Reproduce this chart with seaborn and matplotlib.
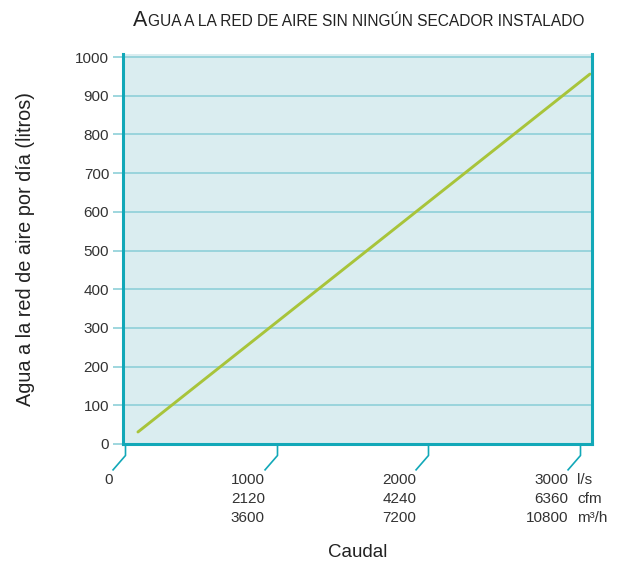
import pandas as pd
import matplotlib
matplotlib.use("Agg")
from matplotlib import pyplot as plt
from matplotlib.path import Path
import seaborn as sns

# Datos
caudal_ls = [85, 3065]
agua_litros = [31, 956]
ticks_ls = [0, 1000, 2000, 3000]
ticks_cfm = ["", "2120", "4240", "6360"]
ticks_m3h = ["", "3600", "7200", "10800"]
unidades = ["l/s", "cfm", "m³/h"]
y_ticks = list(range(0, 1001, 100))

sns.set_style("white")
plt.rcParams['font.family'] = ['Liberation Sans', 'DejaVu Sans']

teal = "#12a8b8"
grid = "#8ed0d8"
verde = "#a8c43a"
fondo = "#daedf0"
texto = "#333333"

df = pd.DataFrame({"caudal": caudal_ls, "agua": agua_litros})

fig = plt.figure(figsize=(6.28, 5.62), dpi=100)
ax = fig.add_axes([0.196, 0.21, 0.747, 0.694])
ax.set_facecolor(fondo)
sns.lineplot(data=df, x="caudal", y="agua", color=verde, linewidth=2.1, ax=ax)

ax.set_xlim(-13, 3080)
ax.set_ylim(0, 1008)
ax.set_yticks(y_ticks)
ax.set_xticks([])
ax.yaxis.grid(True, color=grid, linewidth=1.2)
ax.set_axisbelow(True)
ax.tick_params(axis='y', left=True, length=7, width=1.2, color=grid,
               labelsize=11, labelcolor=texto, pad=3)

ax.spines['top'].set_visible(False)
for s in ['left', 'right', 'bottom']:
    ax.spines[s].set_color(teal)
    ax.spines[s].set_linewidth(2.2)

# Marcas del eje x: trazo vertical + diagonal
marca = Path([(0, 0), (0, -11), (-13, -26)], [Path.MOVETO, Path.LINETO, Path.LINETO])
ax.plot(ticks_ls, [0] * len(ticks_ls), transform=ax.get_xaxis_transform(),
        marker=marca, markersize=37.4, linestyle='none', markerfacecolor='none',
        markeredgecolor=teal, markeredgewidth=1.2, clip_on=False)

for t, c, m in zip(ticks_ls, ticks_cfm, ticks_m3h):
    lineas = [str(t)] + [v for v in (c, m) if v]
    ax.annotate("\n".join(lineas), xy=(t, 0), xycoords=ax.get_xaxis_transform(),
                xytext=(-8.5, -21), textcoords='offset points', ha='right', va='top',
                fontsize=11, linespacing=1.45, color=texto)

ax.annotate("\n".join(unidades), xy=(ticks_ls[-1], 0), xycoords=ax.get_xaxis_transform(),
            xytext=(-2, -21), textcoords='offset points', ha='left', va='top',
            fontsize=11, linespacing=1.45, color=texto)

ax.set_xlabel("Caudal", fontsize=13.5, color="#222222", va='center')
ax.xaxis.set_label_coords(0.5, -0.277)
ax.set_ylabel("Agua a la red de aire por día (litros)", fontsize=14.3, color="#222222", va='center')
ax.yaxis.set_label_coords(-0.209, 0.5)

# Título en versalitas
t1 = fig.text(133 / 628, 1 - 26 / 562, "A", fontsize=15.5, va='baseline', color="#222222")
fig.canvas.draw()
bb = t1.get_window_extent(fig.canvas.get_renderer())
fig.text(bb.x1 / fig.bbox.width + 0.001, 1 - 26 / 562,
         "GUA A LA RED DE AIRE SIN NINGÚN SECADOR INSTALADO",
         fontsize=11.2, va='baseline', color="#222222")

fig.savefig("out.png", dpi=100)
